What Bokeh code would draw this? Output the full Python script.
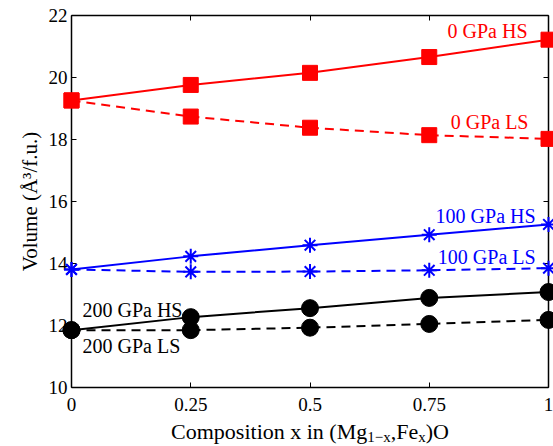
from bokeh.plotting import figure
from bokeh.models import (Range1d, FixedTicker, LinearAxis, NumeralTickFormatter,
                          CustomJSTickFormatter, ColumnDataSource)
from bokeh.core.properties import value
from bokeh.embed import file_html
from bokeh.resources import INLINE

# ---------------- data ----------------
composition = [0.0, 0.25, 0.5, 0.75, 1.0]
vol_0gpa_hs = [19.26, 19.76, 20.15, 20.66, 21.22]
vol_0gpa_ls = [19.26, 18.74, 18.38, 18.14, 18.02]
vol_100gpa_hs = [13.81, 14.23, 14.59, 14.93, 15.26]
vol_100gpa_ls = [13.81, 13.73, 13.74, 13.78, 13.85]
vol_200gpa_hs = [11.85, 12.27, 12.56, 12.89, 13.08]
vol_200gpa_ls = [11.85, 11.85, 11.93, 12.05, 12.18]

x_ticks = [0, 0.25, 0.5, 0.75, 1]
y_ticks = [10, 12, 14, 16, 18, 20, 22]

series_labels = ["0 GPa HS", "0 GPa LS", "100 GPa HS", "100 GPa LS", "200 GPa HS", "200 GPa LS"]
label_x = [0.956, 0.958, 0.973, 0.973, 0.023, 0.023]
label_y = [21.26, 18.35, 15.32, 14.00, 12.26, 11.10]
label_colors = ["#ff0000", "#ff0000", "#0000ff", "#0000ff", "#000000", "#000000"]
label_align = ["right", "right", "right", "right", "left", "left"]

FONT = "Liberation Serif"
RED, BLUE, BLACK = "#ff0000", "#0000ff", "#000000"
PX_PER_UNIT = 372 / 12.0
BASE_FIX = 7 / PX_PER_UNIT   # rendered baseline sits lower than requested

p = figure(width=553, height=446, output_backend="svg", toolbar_location=None,
           x_range=Range1d(0, 1), y_range=Range1d(10, 22),
           min_border_left=71, min_border_right=5, min_border_top=15, min_border_bottom=59)
p.xgrid.visible = False
p.ygrid.visible = False
p.outline_line_color = None
p.background_fill_color = "white"
p.border_fill_color = "white"


def style_axis(ax, ticks, standoff):
    ax.ticker = FixedTicker(ticks=ticks)
    ax.major_tick_in = 5
    ax.major_tick_out = 0
    ax.minor_tick_line_color = None
    ax.axis_line_color = "black"
    ax.axis_line_width = 1.5
    ax.major_tick_line_color = "black"
    ax.major_tick_line_width = 1
    ax.major_label_text_font = FONT
    ax.major_label_text_font_size = "19px"
    ax.major_label_text_color = "black"
    ax.major_label_standoff = standoff


style_axis(p.xaxis[0], x_ticks, 10)
p.xaxis[0].formatter = NumeralTickFormatter(format="0.[00]")
style_axis(p.yaxis[0], y_ticks, 4)
p.yaxis[0].axis_label = "Volume (Å³/f.u.)"
p.yaxis[0].axis_label_text_font = FONT
p.yaxis[0].axis_label_text_font_size = "21px"
p.yaxis[0].axis_label_text_font_style = "normal"
p.yaxis[0].axis_label_text_color = "black"
p.yaxis[0].axis_label_standoff = 4

for loc, ticks in (("above", x_ticks), ("right", y_ticks)):
    ax = LinearAxis(formatter=CustomJSTickFormatter(code="return ''"))
    style_axis(ax, ticks, 0)
    ax.major_label_text_font_size = "1px"
    p.add_layout(ax, loc)

# ---------------- series ----------------
series = [
    (vol_0gpa_hs, RED, "solid", "square"),
    (vol_0gpa_ls, RED, "9 6", "square"),
    (vol_100gpa_hs, BLUE, "solid", "asterisk"),
    (vol_100gpa_ls, BLUE, "9 6", "asterisk"),
    (vol_200gpa_hs, BLACK, "solid", "circle"),
    (vol_200gpa_ls, BLACK, "9 6", "circle"),
]
for vals, col, dash, _ in series:
    p.line(composition, vals, line_color=col, line_width=2, line_dash=dash)
for vals, col, dash, marker in series:
    if marker == "square":
        p.scatter(composition, vals, marker="square", size=15, fill_color=col,
                  line_color=col, level="overlay")
    elif marker == "asterisk":
        p.scatter(composition, vals, marker="asterisk", size=15, line_color=col,
                  line_width=2, level="overlay")
    else:
        p.scatter(composition, vals, marker="circle", size=17, fill_color=col,
                  line_color=col, level="overlay")

# ---------------- series labels ----------------
for align in ("right", "left"):
    idx = [i for i, a in enumerate(label_align) if a == align]
    src = ColumnDataSource(dict(x=[label_x[i] for i in idx],
                                y=[label_y[i] + BASE_FIX for i in idx],
                                t=[series_labels[i] for i in idx],
                                c=[label_colors[i] for i in idx]))
    p.text(x="x", y="y", text="t", text_color="c", source=src, text_align=align,
           text_baseline="alphabetic", text_font=value(FONT), text_font_size="20px")

# ---------------- x-axis label with subscripts ----------------
W = {'C': 667, 'o': 500, 'm': 778, 'p': 500, 's': 389, 'i': 278, 't': 278, 'n': 500,
     ' ': 250, 'x': 500, '(': 333, 'M': 889, 'g': 500, ',': 250, 'F': 556, 'e': 444,
     ')': 333, 'O': 722, '1': 500, '\u2212': 564}
MAIN, SUB = 22, 15
pieces = [("Composition x in (Mg", False), ("1\u2212x", True), (",Fe", False),
          ("x", True), (")O", False)]
widths = [sum(W.get(ch, 500) for ch in t) / 1000.0 * (SUB if s else MAIN) for t, s in pieces]
total = sum(widths)
offs, cur = [], -total / 2.0
for w in widths:
    offs.append(cur)
    cur += w
lab_src = ColumnDataSource(dict(
    x=[0.5] * len(pieces),
    y=[10 - (56 if s else 51) / PX_PER_UNIT + BASE_FIX for _, s in pieces],
    xo=offs,
    t=[t for t, _ in pieces],
    fs=[f"{SUB if s else MAIN}px" for _, s in pieces],
))
p.text(x="x", y="y", text="t", x_offset="xo", text_font_size="fs", source=lab_src,
       text_font=value(FONT), text_color="black", text_align="left",
       text_baseline="alphabetic", level="overlay")

open("out.html", "w").write(file_html(p, INLINE))
